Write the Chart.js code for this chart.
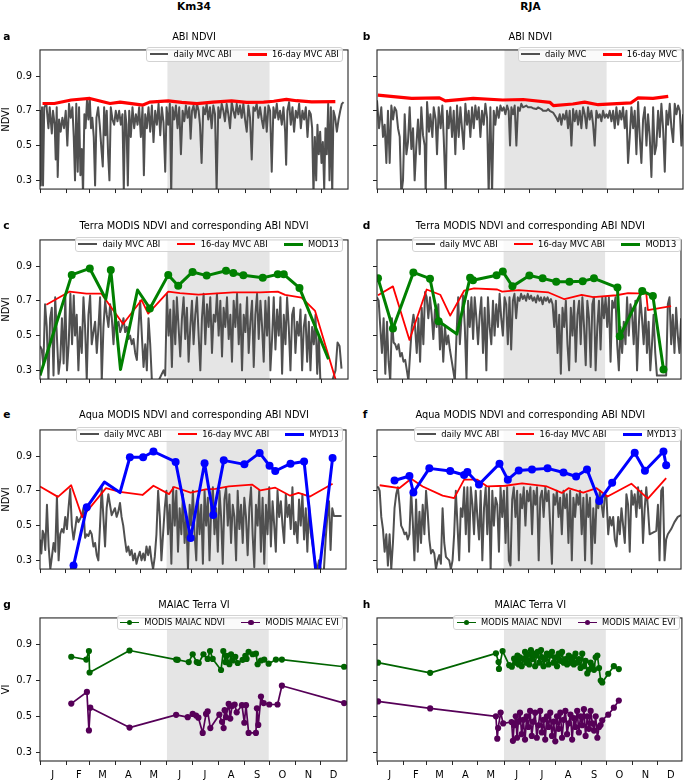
<!DOCTYPE html>
<html><head><meta charset="utf-8">
<script src="https://cdn.jsdelivr.net/npm/chart.js@4.4.1/dist/chart.umd.min.js"></script>
<style>
html,body{margin:0;padding:0}
body{width:685px;height:781px;position:relative;background:#fff;overflow:hidden;font-family:"DejaVu Sans",sans-serif;color:#000}
.hdr{position:absolute;width:200px;text-align:center;font:bold 10.6px "DejaVu Sans";line-height:12px}
.let{position:absolute;font:bold 10.6px "DejaVu Sans";line-height:12px}
.ttl{position:absolute;width:320px;text-align:center;font:9.8px "DejaVu Sans";line-height:12px;white-space:nowrap}
.leg{position:absolute;display:flex;align-items:center;box-sizing:border-box;height:15.6px;background:rgba(255,255,255,0.8);border:1px solid #d3d3d3;border-radius:3px;padding:0 3.5px 0 2.5px;font:8.36px "DejaVu Sans";line-height:10px;white-space:nowrap;z-index:2}
.it{display:flex;align-items:center;margin-left:16.4px}
.it:first-child{margin-left:0}
.hd{position:relative;width:18.7px;height:8px;margin-right:5.3px}
.ln{position:absolute;left:0;right:0;top:50%}
.mk{position:absolute;left:50%;top:50%;border-radius:50%}
canvas{position:absolute}
</style>
</head><body>
<script>
// ---------- axes ----------
const monthStarts=[0,31,59,90,120,151,181,212,243,273,304,334];
const monthLabels=['J','F','M','A','M','J','J','A','S','O','N','D'];
const yTicks=[0.3,0.5,0.7,0.9];
const drySeason=[151,272];

// ---------- a: Km34 ABI NDVI ----------
const km34AbiDaily=[[0,.70],[1,.27],[2.4,.72],[3.6,.27],[5,.72],[7.5,.74],[10,.60],[11.5,.72],[14,.57],[15.4,.70],[17.4,.62],[18.6,.42],[19.8,.72],[21,.32],[22.6,.65],[24.5,.58],[26.5,.66],[28.5,.60],[30.5,.70],[32.4,.50],[34.4,.74],[36.4,.66],[38.4,.72],[40,.55],[41.5,.30],[43,.74],[44.7,.35],[46.3,.72],[47.9,.33],[49.5,.48],[51,.22],[52.6,.68],[54,.60],[55.8,.77],[57.4,.65],[59,.77],[60.5,.60],[62,.66],[63.7,.55],[65.3,.27],[66.9,.66],[68.9,.72],[70.8,.62],[72.8,.48],[74.4,.38],[76,.72],[77.6,.56],[79.1,.70],[80.7,.45],[82.3,.30],[83.9,.72],[85.9,.65],[87.9,.62],[89.8,.70],[91.8,.64],[93.8,.70],[95.8,.62],[97.7,.68],[99.3,.24],[100.9,.70],[102.5,.62],[104.1,.27],[105.7,.70],[107.6,.55],[109.6,.72],[111.6,.60],[113.6,.68],[115.6,.62],[117.5,.72],[119.5,.55],[121.5,.72],[123.1,.33],[124.7,.68],[126.6,.60],[128.6,.72],[130.6,.58],[132.6,.73],[134.5,.52],[136.5,.70],[138.5,.62],[140.5,.74],[142.5,.56],[144.4,.72],[146.4,.63],[148.4,.35],[150,.72],[152,.62],[153.9,.74],[155.5,.22],[157.1,.72],[159.1,.65],[161.1,.73],[163,.60],[165,.72],[167,.45],[169,.70],[171,.64],[172.9,.73],[174.9,.66],[176.9,.72],[178.5,.54],[180.1,.70],[182,.73],[184,.66],[186,.74],[188,.70],[189.6,.62],[191.5,.40],[193.5,.72],[195.5,.68],[197.5,.74],[199.4,.65],[201.4,.72],[203.4,.60],[205.4,.73],[207.4,.68],[209.3,.24],[211.3,.72],[213.3,.66],[215.3,.74],[217.3,.70],[219.2,.64],[221.2,.74],[223.2,.68],[225.2,.60],[227.2,.75],[229.1,.70],[231.1,.66],[233.1,.74],[235.1,.68],[237,.73],[239,.66],[241,.74],[243,.65],[245,.58],[246.9,.73],[248.9,.66],[250.9,.42],[252.9,.72],[254.8,.70],[256.8,.74],[258.8,.66],[260.8,.72],[262.8,.65],[264.7,.60],[266.7,.72],[268.7,.58],[270.7,.73],[272.7,.70],[274.6,.35],[276.6,.72],[278.6,.66],[280.6,.74],[282.5,.65],[284.5,.70],[286.5,.62],[288.5,.72],[290.5,.58],[291.7,.39],[293.2,.70],[295.2,.75],[297.2,.62],[299.2,.72],[301.1,.58],[303.1,.70],[305.1,.66],[307.1,.74],[309.1,.60],[311,.70],[313,.65],[315,.72],[317,.55],[319,.70],[320.9,.68],[322.5,.60],[324.1,.22],[325.7,.55],[327.3,.30],[328.8,.62],[330.4,.45],[332,.58],[333.6,.40],[335.2,.52],[336.8,.25],[338.3,.60],[339.9,.45],[341.5,.74],[343.1,.30],[344.7,.72],[346.3,.22],[347.8,.70],[349.8,.66],[351.8,.58],[353.8,.65],[355.8,.70],[357.7,.74],[359.7,.75]];
const km34AbiMvc16=[[3,.742],[17,.742],[37,.762],[59,.771],[83,.742],[95,.75],[122,.733],[130,.75],[152,.757],[168,.748],[186,.741],[205,.75],[227,.757],[245,.748],[265,.75],[277,.755],[292,.766],[304,.758],[322,.751],[350,.753]];

// ---------- b: RJA ABI NDVI ----------
const rjaAbiDaily=[[0,.76],[2.4,.60],[5.1,.72],[7.1,.55],[9.1,.62],[11.1,.40],[13,.70],[15,.40],[17,.73],[19,.65],[20.9,.72],[22.9,.70],[24.9,.60],[26.9,.55],[28.8,.22],[30.8,.30],[32.8,.68],[34.8,.45],[36.7,.52],[38.7,.72],[40.7,.48],[42.7,.60],[44.6,.30],[46.6,.50],[48.6,.65],[50.6,.45],[52.5,.72],[54.5,.56],[56.5,.50],[57.7,.22],[59.3,.75],[61.6,.58],[63.2,.68],[65.6,.55],[67.2,.72],[69.5,.65],[71.1,.45],[73.1,.72],[75.4,.60],[77.4,.73],[79,.55],[81.4,.22],[83,.70],[84.9,.60],[86.9,.72],[88.9,.55],[90.9,.70],[92.8,.45],[94.8,.73],[96.8,.55],[98.8,.72],[100.7,.60],[102.7,.48],[104.7,.74],[106.7,.62],[108.6,.70],[110.6,.55],[112.6,.72],[114.6,.60],[116.5,.73],[118.5,.65],[120.5,.72],[122.5,.55],[124.4,.70],[126.4,.62],[128.4,.74],[130.4,.66],[132.3,.22],[134.3,.72],[136.3,.22],[138.3,.70],[140.2,.62],[142.2,.72],[144.2,.66],[146.2,.73],[148.1,.70],[150.1,.72],[152.1,.68],[154.1,.73],[156,.70],[157.6,.50],[159.2,.72],[161.2,.68],[163.1,.73],[165.1,.50],[167.1,.72],[169.1,.70],[171,.74],[173,.72],[177,.73],[179,.72],[182.9,.72],[184.8,.715],[188.8,.71],[190.8,.72],[194.7,.71],[196.7,.70],[200.7,.70],[202.6,.71],[204.6,.70],[208.6,.69],[212.5,.66],[214.5,.64],[216.5,.68],[218.4,.62],[220.4,.68],[222.4,.65],[224.4,.70],[226.3,.60],[228.3,.70],[230.3,.50],[232.3,.71],[234.2,.64],[236.2,.70],[238.2,.62],[240.2,.70],[242.1,.60],[244.1,.72],[246.1,.68],[248.1,.60],[250,.72],[252,.65],[254,.70],[256,.62],[257.9,.50],[259.9,.70],[261.9,.66],[263.9,.68],[265.8,.64],[267.8,.70],[269.8,.66],[271.8,.68],[273.7,.66],[275.7,.70],[277.7,.64],[279.7,.70],[281.6,.60],[283.6,.72],[285.6,.62],[287.6,.70],[289.5,.65],[291.5,.72],[293.5,.60],[295.5,.70],[297.4,.40],[299.4,.55],[301.4,.72],[303.4,.60],[305.3,.70],[307.3,.45],[309.3,.75],[311.3,.55],[313.2,.40],[315.2,.65],[317.2,.72],[319.2,.50],[321.1,.68],[323.1,.55],[325.1,.32],[327.1,.72],[329,.45],[331,.50],[333,.70],[335,.55],[336.9,.74],[338.9,.60],[340.9,.35],[342.9,.70],[344.8,.62],[346.8,.74],[348.8,.60],[350.8,.52],[352.7,.74],[354.7,.68],[356.7,.73],[358.7,.70],[360.6,.50],[362.6,.68]];
const rjaAbiMvc16=[[1,.79],[41,.771],[74,.774],[81,.757],[114,.771],[149,.762],[173,.765],[205,.748],[209,.73],[232,.739],[246,.75],[262,.735],[301,.746],[309,.774],[327,.771],[345,.783]];

// ---------- c: Km34 Terra MODIS ----------
const km34TerraAbiDaily=[[0,.44],[2,.42],[4,.33],[6,.68],[8,.55],[10,.24],[12,.60],[14,.66],[16,.27],[18,.72],[20,.50],[22,.28],[24,.36],[26,.60],[28,.34],[30,.72],[32,.30],[34,.45],[36,.74],[38,.45],[40,.73],[41.5,.50],[43.5,.62],[45.5,.30],[47.5,.55],[49.5,.40],[51.5,.72],[53.4,.55],[55.4,.25],[57.4,.62],[59.4,.73],[61.3,.45],[63.3,.52],[65.3,.58],[67.3,.40],[69.3,.55],[71.2,.72],[73.2,.24],[75.2,.55],[77.2,.70],[79.1,.62],[81.1,.55],[83.1,.68],[85.1,.60],[87.1,.45],[89,.62],[91,.55],[93,.58],[95,.52],[97,.55],[98.9,.60],[100.9,.52],[102.9,.55],[104.9,.48],[106.8,.50],[108.8,.45],[110.8,.48],[112.8,.40],[114.8,.36],[116.7,.55],[118.7,.70],[120.7,.50],[122.7,.32],[124.7,.45],[126.6,.30],[128.6,.60],[130.6,.45],[132.6,.24],[136.5,.24],[140.5,.24],[144.4,.28],[146.4,.30],[148.4,.27],[150.4,.74],[152.4,.50],[154.3,.65],[156.3,.32],[158.3,.70],[160.3,.45],[162.2,.72],[164.2,.55],[166.2,.38],[168.2,.60],[170.2,.72],[172.1,.48],[174.1,.66],[176.1,.35],[178.1,.55],[180.1,.70],[182,.45],[184,.62],[186,.72],[188,.50],[190,.30],[191.9,.60],[193.9,.74],[195.9,.45],[197.9,.68],[199.8,.55],[201.8,.72],[203.8,.40],[205.8,.62],[207.8,.58],[209.7,.74],[211.7,.50],[213.7,.70],[215.7,.38],[217.6,.66],[219.6,.55],[221.6,.72],[223.6,.48],[225.6,.62],[227.5,.35],[229.5,.70],[231.5,.55],[233.5,.74],[235.5,.45],[237.4,.68],[239.4,.30],[241.4,.62],[243.4,.52],[245.4,.72],[247.3,.40],[249.3,.58],[251.3,.70],[253.3,.32],[255.2,.62],[257.2,.74],[259.2,.48],[261.2,.70],[263.2,.55],[265.1,.35],[267.1,.70],[269.1,.50],[271.1,.72],[273,.30],[275,.48],[277,.72],[279,.42],[281,.65],[282.9,.50],[284.9,.72],[286.9,.28],[288.9,.62],[290.9,.45],[292.8,.72],[294.8,.55],[296.8,.30],[298.8,.62],[300.7,.66],[302.7,.40],[304.7,.58],[306.7,.50],[308.7,.65],[310.6,.30],[312.6,.55],[314.6,.62],[316.6,.35],[318.6,.58],[320.5,.30],[322.5,.55],[324.5,.45],[326.5,.62],[328.5,.28],[330.4,.50],[332.4,.22],[340.3,.22],[346.3,.24],[350.2,.30],[352.6,.46],[355,.44],[357.3,.31]];
const km34TerraAbiMvc16=[[7.5,.677],[35.2,.753],[55,.741],[72.8,.741],[98.5,.567],[120.3,.705],[128.2,.626],[152,.753],[165.8,.744],[187.6,.735],[205.4,.741],[229,.748],[260.8,.748],[281.8,.753],[290.5,.734],[310,.718],[326,.642],[352,.22]];
const km34Mod13=[[0,.27],[37.6,.849],[59,.886],[78,.71],[83.9,.877],[95.4,.305],[115.6,.762],[130.2,.656],[152,.849],[163.8,.787],[180.8,.866],[197.5,.845],[220.4,.873],[229.1,.86],[241,.847],[264,.833],[281.8,.852],[288.9,.852],[307.5,.774],[341.9,.364]];
const km34Mod13Marked=[0,1,1,0,1,0,0,1,1,1,1,1,1,1,1,1,1,1,1,0];

// ---------- d: RJA Terra MODIS ----------
const rjaTerraAbiDaily=[[0,.72],[2,.70],[3.9,.55],[5.9,.40],[7.9,.60],[9.9,.28],[11.9,.58],[13.8,.35],[15.8,.24],[17.8,.60],[19.8,.46],[21.7,.45],[23.7,.42],[25.7,.45],[27.7,.38],[29.6,.40],[31.6,.35],[33.6,.36],[35.6,.30],[37.5,.24],[39.5,.40],[41.5,.55],[43.5,.62],[45.4,.55],[47.4,.40],[49.4,.60],[51.4,.35],[53.3,.66],[55.3,.45],[57.3,.75],[59.3,.72],[61.2,.60],[63.2,.72],[65.2,.62],[67.2,.48],[69.1,.65],[71.1,.55],[73.1,.68],[75.1,.42],[77,.58],[79,.35],[81,.55],[83,.45],[84.9,.50],[86.9,.42],[88.9,.36],[90.9,.30],[92.8,.24],[94.8,.50],[96.8,.72],[98.8,.45],[100.7,.60],[102.7,.73],[104.7,.55],[106.7,.25],[108.6,.70],[110.6,.55],[112.6,.72],[114.6,.48],[116.5,.72],[118.5,.60],[120.5,.45],[122.5,.62],[124.4,.72],[126.4,.40],[128.4,.66],[130.4,.30],[132.3,.72],[134.3,.55],[136.3,.45],[138.3,.70],[140.2,.50],[142.2,.68],[144.2,.55],[146.2,.74],[148.1,.60],[150.1,.50],[152.1,.72],[154.1,.68],[156,.45],[158,.72],[160,.42],[162,.70],[163.9,.74],[165.9,.60],[167.9,.72],[169.9,.70],[171.8,.74],[173.8,.71],[175.8,.73],[177.8,.70],[179.7,.74],[181.7,.71],[183.7,.73],[185.7,.70],[187.6,.72],[189.6,.69],[191.6,.73],[193.6,.70],[195.5,.72],[197.5,.68],[199.5,.72],[201.5,.70],[203.4,.72],[205.4,.69],[207.4,.71],[209.4,.68],[211.3,.55],[213.3,.70],[215.3,.40],[217.3,.62],[219.2,.28],[221.2,.66],[223.2,.55],[225.2,.70],[227.1,.45],[229.1,.30],[231.1,.66],[233.1,.50],[235,.70],[237,.35],[239,.62],[241,.70],[242.9,.45],[244.9,.72],[246.9,.55],[248.9,.33],[250.8,.70],[252.8,.60],[254.8,.32],[256.8,.68],[258.7,.72],[260.7,.30],[262.7,.55],[264.7,.70],[266.6,.42],[268.6,.72],[270.6,.60],[272.6,.72],[274.5,.55],[276.5,.72],[278.5,.35],[280.5,.70],[282.4,.66],[284.4,.72],[286.4,.45],[288.4,.30],[290.3,.55],[292.3,.40],[294.3,.58],[296.3,.45],[298.2,.72],[300.2,.50],[302.2,.68],[304.2,.62],[306.1,.45],[308.1,.70],[310.1,.30],[312.1,.55],[314,.72],[316,.60],[318,.45],[320,.66],[321.9,.40],[323.9,.58],[325.9,.30],[327.9,.45],[329.8,.62],[331.8,.40],[333.8,.27],[335.8,.27],[339.7,.27],[344.8,.27],[346.8,.68],[348.8,.72],[350.8,.45],[352.7,.62],[354.7,.40],[356.7,.66],[358.7,.50],[360.6,.40],[362.6,.60]];
const rjaTerraAbiMvc16=[[1.2,.732],[19,.783],[38.7,.475],[59.2,.765],[75.4,.735],[87.3,.615],[103.9,.758],[115.7,.771],[143.4,.765],[149.3,.753],[169,.762],[204.6,.748],[223.5,.709],[244,.734],[257.9,.721],[285.5,.732],[299.4,.744],[321.1,.741],[323,.647],[350.7,.67]];
const rjaMod13=[[1.2,.829],[19,.541],[43.4,.863],[63.2,.827],[73.5,.582],[95.2,.509],[111,.833],[114.5,.818],[142.6,.847],[150,.868],[161.5,.783],[181.7,.845],[197.5,.829],[213.7,.81],[229.5,.81],[245.3,.813],[258.7,.829],[286.7,.776],[289.5,.496],[316.3,.757],[329,.727],[341.6,.305]];
const rjaMod13Marked=[1,1,1,1,1,0,1,1,1,1,1,1,1,1,1,1,1,1,1,1,1,1];

// ---------- e: Km34 Aqua MODIS ----------
const km34AquaAbiDaily=[[0,.42],[1.6,.34],[3.2,.47],[4.7,.45],[6.3,.36],[8.3,.62],[10.3,.38],[12.3,.25],[14.2,.32],[16.2,.40],[18.2,.35],[20.2,.67],[22.2,.30],[24.1,.45],[26.1,.48],[28.1,.46],[30.1,.55],[32.1,.48],[34,.60],[36,.71],[38,.50],[40,.42],[41.9,.48],[43.9,.55],[45.9,.52],[47.9,.54],[49.9,.56],[51.8,.60],[53.8,.43],[55.8,.45],[57.8,.44],[59.8,.47],[61.7,.45],[63.7,.38],[65.7,.40],[67.7,.33],[69.6,.30],[71.6,.50],[73.6,.72],[75.6,.55],[77.6,.38],[79.5,.60],[81.5,.68],[83.5,.62],[85.5,.56],[87.4,.58],[89.4,.60],[91.4,.55],[93.4,.58],[95.4,.63],[97.3,.55],[99.3,.50],[101.3,.42],[103.3,.35],[105.3,.38],[107.2,.33],[109.2,.36],[111.2,.30],[113.2,.34],[115.1,.28],[117.1,.32],[119.1,.35],[121.1,.30],[123.1,.34],[125,.30],[127,.38],[129,.33],[131,.38],[133,.30],[134.9,.25],[136.9,.32],[138.9,.45],[140.9,.70],[142.9,.55],[144.8,.30],[146.8,.45],[148.8,.60],[150.8,.70],[152.7,.45],[154.7,.62],[156.7,.28],[158.7,.72],[160.7,.50],[162.6,.70],[164.6,.35],[166.6,.60],[168.6,.45],[170.5,.68],[172.5,.40],[174.5,.55],[176.5,.25],[178.5,.62],[180.4,.50],[182.4,.70],[184.4,.45],[186.4,.30],[188.4,.66],[190.3,.45],[192.3,.62],[194.3,.28],[196.3,.70],[198.2,.50],[200.2,.66],[202.2,.30],[204.2,.60],[206.2,.72],[208.1,.45],[210.1,.60],[212.1,.35],[214.1,.70],[216,.55],[218,.28],[220,.65],[222,.72],[224,.50],[225.9,.68],[227.9,.40],[229.9,.62],[231.9,.55],[233.9,.30],[235.8,.70],[237.8,.48],[239.8,.62],[241.8,.40],[243.7,.66],[245.7,.55],[247.7,.33],[249.7,.60],[251.7,.72],[253.6,.45],[255.6,.26],[257.6,.62],[259.6,.50],[261.5,.70],[263.5,.35],[265.5,.66],[267.5,.28],[269.5,.62],[271.4,.45],[273.4,.72],[275.4,.38],[277.4,.64],[279.4,.50],[281.3,.35],[283.3,.70],[285.3,.55],[287.3,.64],[289.3,.50],[291.2,.40],[293.2,.68],[295.2,.55],[297.2,.62],[299.1,.48],[301.1,.72],[303.1,.45],[305.1,.52],[307.1,.40],[309,.65],[311,.50],[313,.68],[315,.42],[317,.60],[318.9,.35],[320.9,.62],[322.9,.46],[324.9,.40],[326.9,.33],[328.8,.28],[330.8,.25],[332.8,.30],[334.8,.25],[336.7,.20],[338.7,.25],[340.7,.42],[342.7,.55],[344.7,.64],[346.6,.36],[348.6,.60],[350.6,.555],[359.7,.555]];
const km34AquaAbiMvc16=[[0,.725],[21.4,.665],[37.2,.732],[50.3,.549],[78.7,.715],[95.4,.694],[122.3,.676],[135.3,.729],[153.9,.681],[159.9,.722],[179.7,.69],[197.5,.708],[209.3,.711],[225.2,.725],[252.9,.736],[262.8,.702],[280.6,.718],[298.4,.672],[308.3,.688],[322.1,.667],[349,.741]];
const km34Myd13=[[31,.20],[40,.27],[55.8,.605],[76.8,.75],[95.4,.69],[107.2,.893],[123,.893],[135.3,.926],[161.8,.866],[179.7,.429],[196.3,.858],[206.6,.561],[219.2,.875],[243.8,.852],[262,.918],[273.8,.844],[280.6,.814],[298.8,.856],[315,.868],[331,.15],[349,.888]];
const km34Myd13Marked=[0,1,1,0,0,1,1,1,1,1,1,1,1,1,1,1,1,1,1,0,1];

// ---------- f: RJA Aqua MODIS ----------
const rjaAquaAbiDaily=[[0,.72],[1.6,.72],[3.2,.70],[5.1,.55],[7.1,.48],[9.1,.35],[11.1,.45],[13,.27],[15,.45],[17,.25],[19,.40],[20.9,.60],[22.9,.68],[24.9,.72],[26.9,.62],[28.8,.50],[30.8,.48],[32.8,.45],[34.8,.46],[36.7,.42],[38.7,.45],[40.7,.70],[42.7,.52],[44.6,.30],[46.6,.65],[48.6,.35],[50.6,.58],[52.5,.40],[54.5,.62],[56.5,.45],[58.5,.70],[60.4,.58],[62.4,.42],[64.4,.34],[66.4,.36],[68.3,.34],[70.3,.25],[72.3,.30],[74.3,.33],[76.2,.28],[78.2,.60],[80.2,.40],[82.2,.32],[84.1,.31],[86.1,.30],[88.1,.25],[90.1,.30],[92,.45],[94,.70],[96,.50],[98,.30],[99.9,.60],[101.9,.55],[103.9,.72],[105.9,.45],[107.8,.72],[109.8,.35],[111.8,.72],[113.8,.62],[115.7,.45],[117.7,.70],[119.7,.55],[121.7,.42],[123.6,.70],[125.6,.30],[127.6,.60],[129.6,.72],[131.5,.45],[133.5,.72],[135.5,.24],[137.5,.70],[139.4,.50],[141.4,.66],[143.4,.62],[145.4,.35],[147.3,.72],[149.3,.55],[151.3,.70],[153.3,.40],[155.2,.72],[157.2,.30],[159.2,.27],[161.2,.65],[163.1,.72],[165.1,.55],[167.1,.70],[169.1,.30],[171,.68],[173,.60],[175,.72],[177,.50],[178.9,.70],[180.9,.64],[182.9,.72],[184.9,.45],[186.8,.70],[188.8,.62],[190.8,.72],[192.8,.30],[194.7,.66],[196.7,.70],[198.7,.55],[200.7,.72],[202.6,.64],[204.6,.70],[206.6,.48],[208.6,.28],[210.5,.68],[212.5,.62],[214.5,.70],[216.5,.55],[218.4,.66],[220.4,.45],[222.4,.70],[224.4,.60],[226.3,.68],[228.3,.40],[230.3,.70],[232.3,.30],[234.2,.66],[236.2,.55],[238.2,.68],[240.2,.62],[242.1,.70],[244.1,.45],[246.1,.66],[248.1,.30],[250,.68],[252,.55],[254,.66],[256,.28],[257.9,.60],[259.9,.40],[261.9,.66],[263.9,.60],[265.8,.70],[267.8,.62],[269.8,.55],[271.8,.68],[273.7,.66],[275.7,.45],[277.7,.55],[279.7,.50],[281.6,.55],[283.6,.42],[285.6,.38],[287.6,.55],[289.5,.45],[291.5,.60],[293.5,.50],[295.5,.40],[297.4,.68],[299.4,.62],[301.4,.35],[303.4,.70],[305.3,.62],[307.3,.68],[309.3,.55],[311.3,.72],[313.2,.60],[315.2,.70],[317.2,.40],[319.2,.60],[321.1,.72],[323.1,.60],[325.1,.45],[329,.46],[333,.47],[335,.62],[336.9,.30],[338.9,.70],[340.9,.72],[342.9,.30],[344.8,.42],[346.8,.45],[350.8,.48],[354.7,.52],[358.7,.55],[362.6,.56]];
const rjaAquaAbiMvc16=[[3.2,.732],[26.9,.716],[40.7,.769],[54.5,.725],[78.2,.672],[92,.658],[103.9,.764],[119.7,.764],[131.5,.725],[153.2,.729],[173,.743],[202.6,.725],[220.4,.688],[228.3,.715],[246,.69],[261.8,.715],[274.9,.667],[303.3,.741],[323,.655],[344.8,.773]];
const rjaMyd13=[[20.9,.759],[38.7,.785],[43.4,.69],[62.4,.829],[87.3,.814],[103.9,.791],[107.8,.808],[121.6,.736],[146.1,.856],[156,.764],[169,.817],[184.8,.822],[203.4,.829],[222.4,.805],[237.4,.782],[250.4,.822],[265,.641],[280.4,.746],[307.3,.919],[319.5,.815],[341.6,.926],[344.8,.847]];

// ---------- g: Km34 MAIAC ----------
const km34MaiacNdvi=[[37.2,.833],[55,.817],[58.2,.865],[59,.745],[106.5,.868],[161.9,.817],[163.8,.816],[176.9,.803],[181.6,.847],[186.4,.803],[188.8,.798],[194.4,.847],[199.4,.821],[202.2,.865],[205.4,.821],[215.3,.759],[218,.865],[220.4,.803],[222,.838],[225.2,.791],[227.2,.847],[229.1,.812],[232.3,.833],[235.1,.798],[241,.816],[244.2,.838],[245.7,.821],[248.1,.861],[252.9,.847],[256.8,.85],[258.8,.791],[262.8,.812],[266.7,.817],[271.9,.794],[280.6,.817],[287.7,.817],[361.7,.777]];
const km34MaiacEvi=[[37.2,.571],[55.8,.636],[58.2,.421],[59.8,.548],[106.5,.437],[161.9,.508],[175.7,.495],[181.6,.513],[185.6,.504],[188.4,.492],[193.5,.407],[197.5,.513],[199.4,.527],[202.6,.434],[213.3,.509],[216.5,.469],[218.4,.434],[219.6,.534],[221.2,.495],[224.4,.569],[226.3,.487],[228.3,.557],[231.5,.566],[233.9,.522],[240.2,.562],[243,.464],[245,.562],[248.1,.407],[256.8,.407],[258,.545],[259.6,.452],[262.8,.61],[266,.574],[272.7,.566],[282.5,.566],[287.7,.671],[361.7,.574]];

// ---------- h: RJA MAIAC ----------
const rjaMaiacNdvi=[[1.2,.80],[63.2,.743],[141.4,.852],[144.5,.803],[145,.765],[149.3,.865],[157.2,.786],[160.3,.777],[163,.822],[165,.80],[167,.84],[168.5,.79],[170,.83],[172,.78],[174,.82],[176,.86],[177.5,.80],[179,.845],[181,.79],[183,.87],[184.5,.82],[186,.85],[188,.78],[189.5,.84],[191,.86],[193,.80],[195,.87],[196.5,.83],[198,.78],[200,.82],[202,.85],[204,.79],[206,.84],[208,.86],[210,.80],[212,.83],[214,.78],[216,.85],[218,.81],[220,.86],[222,.80],[224,.82],[226,.79],[228,.84],[230,.80],[232,.83],[234,.79],[236,.85],[238,.80],[240,.82],[242,.77],[244,.85],[246,.78],[248,.81],[250,.74],[252,.76],[254,.80],[256,.78],[258,.76],[260,.83],[262,.84],[264,.77],[266,.70],[267.8,.689],[274.9,.738],[281.6,.78],[287.5,.764]];
const rjaMaiacEvi=[[1.2,.583],[63.2,.544],[141.4,.50],[143,.375],[144,.434],[147,.521],[150,.46],[160,.468],[161.6,.363],[163,.45],[165,.50],[166.5,.38],[168,.47],[170,.52],[172,.40],[174,.48],[176,.37],[178,.50],[180,.44],[182,.53],[184,.39],[186,.47],[188,.52],[190,.38],[192,.45],[194,.53],[196,.41],[198,.48],[200,.37],[202,.50],[204,.44],[206,.52],[208,.39],[210,.47],[212,.36],[214,.50],[216,.43],[218,.52],[220,.38],[222,.48],[224,.53],[226,.40],[228,.46],[230,.51],[232,.37],[234,.49],[236,.44],[238,.53],[240,.41],[242,.50],[244,.45],[246,.54],[248,.39],[250,.50],[252,.43],[254,.53],[256,.46],[258,.42],[260,.50],[262,.38],[264,.44],[265.8,.451],[267.8,.478],[274.9,.509],[281.6,.548],[287.5,.588]];

// ---------- styles ----------
const C={gray:'#505050',red:'#ff0000',green:'#008000',blue:'#0000ff',dkgreen:'#006400',purple:'#560058'};
const xy=a=>a.map(p=>({x:p[0],y:p[1]}));

function lineDs(label,data,color,width,order,extra){
  return Object.assign({label,data:xy(data),borderColor:color,backgroundColor:color,borderWidth:width,
    pointRadius:0,pointHoverRadius:0,tension:0,borderJoinStyle:'round',borderCapStyle:'butt',clip:0,order,fill:false},extra||{});
}
function markedDs(label,data,color,flags){
  return lineDs(label,data,color,3,1,{pointRadius:c=>(!flags||flags[c.dataIndex])?4:0,pointBorderWidth:0,pointBackgroundColor:color});
}
function maiacDs(label,data,color){
  return lineDs(label,data,color,1.7,1,{pointRadius:3.1,pointBorderWidth:0,pointBackgroundColor:color});
}

const framePlugin={id:'frame',
  beforeDatasetsDraw(ch){const {ctx,chartArea:a,scales}=ch;const x=scales.x;
    const x0=x.getPixelForValue(drySeason[0]),x1=x.getPixelForValue(drySeason[1]);
    ctx.save();ctx.fillStyle='#e5e5e5';ctx.fillRect(x0,a.top,x1-x0,a.bottom-a.top);ctx.restore();},
  afterDraw(ch){const {ctx,chartArea:a}=ch;ctx.save();ctx.strokeStyle='#262626';ctx.lineWidth=1.1;
    ctx.strokeRect(a.left,a.top,a.right-a.left,a.bottom-a.top);ctx.restore();}
};

function makeChart(p){
  const cv=document.createElement('canvas');
  cv.width=p.cw;cv.height=p.ch;
  cv.style.left=p.cx+'px';cv.style.top=p.cy+'px';cv.style.width=p.cw+'px';cv.style.height=p.ch+'px';
  document.body.appendChild(cv);
  const tickFont={family:'DejaVu Sans',size:9.9};
  new Chart(cv,{type:'line',data:{datasets:p.datasets},
    options:{responsive:false,animation:false,devicePixelRatio:1,
      layout:{padding:{top:3,right:2,left:0,bottom:0}},
      plugins:{legend:{display:false},tooltip:{enabled:false},title:{display:false}},
      scales:{
        x:{type:'linear',min:0,max:p.xMax,
          afterBuildTicks:a=>{a.ticks=monthStarts.map(v=>({value:v}));},
          afterFit:a=>{a.height=p.bottom?20:6;},
          grid:{drawOnChartArea:false,drawTicks:true,tickLength:4,color:'#262626',lineWidth:1},
          border:{display:false},
          ticks:{autoSkip:false,maxRotation:0,minRotation:0,labelOffset:12.8,padding:4,color:'#000',font:tickFont,
            callback:(v,i)=>p.bottom?monthLabels[i]:''}},
        y:{min:0.25,max:1.05,
          afterBuildTicks:a=>{a.ticks=yTicks.map(v=>({value:v}));},
          afterFit:a=>{a.width=p.yw;},
          grid:{drawOnChartArea:false,drawTicks:true,tickLength:4,color:'#262626',lineWidth:1},
          border:{display:false},
          ticks:{padding:4,color:'#000',font:tickFont,callback:v=>p.yTitle?Number(v).toFixed(1):''},
          title:{display:!!p.yTitle,text:p.yTitle||'',color:'#000',font:tickFont,padding:{top:0,bottom:0}}}
      }},
    plugins:[framePlugin]});
}

function addText(cls,text,left,top){
  const d=document.createElement('div');d.className=cls;d.textContent=text;
  d.style.left=left+'px';d.style.top=top+'px';document.body.appendChild(d);
}
function addLegend(items,right,top){
  const d=document.createElement('div');d.className='leg';
  d.style.right=right+'px';d.style.top=top+'px';
  items.forEach(it=>{
    const s=document.createElement('span');s.className='it';
    const h=document.createElement('span');h.className='hd';
    const l=document.createElement('span');l.className='ln';
    l.style.height=it.w+'px';l.style.marginTop=(-it.w/2)+'px';l.style.background=it.c;h.appendChild(l);
    if(it.m){const m=document.createElement('span');m.className='mk';
      m.style.width=m.style.height=(it.m*2)+'px';m.style.marginLeft=m.style.marginTop=(-it.m)+'px';
      m.style.background=it.c;h.appendChild(m);}
    s.appendChild(h);
    const t=document.createElement('span');t.textContent=it.t;s.appendChild(t);
    d.appendChild(s);
  });
  document.body.appendChild(d);
}

// ---------- layout ----------
const L={cx:0,cw:350,yw:40,xMax:365};
const R={cx:369,cw:316,yw:8,xMax:362.5};
const rows=[{cy:40,ch:159},{cy:230,ch:159},{cy:420,ch:159},{cy:608,ch:173}];

const panels=[
  Object.assign({},L,rows[0],{yTitle:'NDVI',datasets:[lineDs('daily MVC ABI',km34AbiDaily,C.gray,2,3),lineDs('16-day MVC ABI',km34AbiMvc16,C.red,3.2,2)]}),
  Object.assign({},R,rows[0],{datasets:[lineDs('daily MVC',rjaAbiDaily,C.gray,2,3),lineDs('16-day MVC',rjaAbiMvc16,C.red,3.2,2)]}),
  Object.assign({},L,rows[1],{yTitle:'NDVI',datasets:[lineDs('daily MVC ABI',km34TerraAbiDaily,C.gray,2,3),lineDs('16-day MVC ABI',km34TerraAbiMvc16,C.red,1.8,2),markedDs('MOD13',km34Mod13,C.green,km34Mod13Marked)]}),
  Object.assign({},R,rows[1],{datasets:[lineDs('daily MVC ABI',rjaTerraAbiDaily,C.gray,2,3),lineDs('16-day MVC ABI',rjaTerraAbiMvc16,C.red,1.8,2),markedDs('MOD13',rjaMod13,C.green,rjaMod13Marked)]}),
  Object.assign({},L,rows[2],{yTitle:'NDVI',datasets:[lineDs('daily MVC ABI',km34AquaAbiDaily,C.gray,2,3),lineDs('16-day MVC ABI',km34AquaAbiMvc16,C.red,1.8,2),markedDs('MYD13',km34Myd13,C.blue,km34Myd13Marked)]}),
  Object.assign({},R,rows[2],{datasets:[lineDs('daily MVC ABI',rjaAquaAbiDaily,C.gray,2,3),lineDs('16-day MVC ABI',rjaAquaAbiMvc16,C.red,1.8,2),markedDs('MYD13',rjaMyd13,C.blue,null)]}),
  Object.assign({},L,rows[3],{yTitle:'VI',bottom:true,datasets:[maiacDs('MODIS MAIAC NDVI',km34MaiacNdvi,C.dkgreen),maiacDs('MODIS MAIAC EVI',km34MaiacEvi,C.purple)]}),
  Object.assign({},R,rows[3],{bottom:true,datasets:[maiacDs('MODIS MAIAC NDVI',rjaMaiacNdvi,C.dkgreen),maiacDs('MODIS MAIAC EVI',rjaMaiacEvi,C.purple)]})
];
panels.forEach(makeChart);

// ---------- texts ----------
addText('hdr','Km34',94,-0.4);
addText('hdr','RJA',430.5,-0.4);
[['a',3.3,29.6],['b',362.7,29.6],['c',3.3,218.6],['d',362.7,218.6],['e',3.3,407.6],['f',362.7,407.6],['g',3.3,597.6],['h',362.7,597.6]]
  .forEach(t=>addText('let',t[0],t[1],t[2]));
const tTerra='Terra MODIS NDVI and corresponding ABI NDVI',tAqua='Aqua MODIS NDVI and corresponding ABI NDVI';
[['ABI NDVI',194,30.6],['ABI NDVI',530.3,30.6],[tTerra,194,219.6],[tTerra,530.3,219.6],[tAqua,194,408.9],[tAqua,530.3,408.9],['MAIAC Terra VI',194,598.9],['MAIAC Terra VI',530.3,598.9]]
  .forEach(t=>addText('ttl',t[0],t[1]-160,t[2]));

// ---------- legends ----------
const lgGray=t=>({t,c:C.gray,w:2}), lgRed=(t,w)=>({t,c:C.red,w});
addLegend([lgGray('daily MVC ABI'),lgRed('16-day MVC ABI',3)],341.7,46.7);
addLegend([lgGray('daily MVC'),lgRed('16-day MVC',3)],3.3,46.7);
addLegend([lgGray('daily MVC ABI'),lgRed('16-day MVC ABI',2),{t:'MOD13',c:C.green,w:3.2}],341.7,236.7);
addLegend([lgGray('daily MVC ABI'),lgRed('16-day MVC ABI',2),{t:'MOD13',c:C.green,w:3.2}],4.3,236.7);
addLegend([lgGray('daily MVC ABI'),lgRed('16-day MVC ABI',2),{t:'MYD13',c:C.blue,w:3.2}],341.7,426.7);
addLegend([lgGray('daily MVC ABI'),lgRed('16-day MVC ABI',2),{t:'MYD13',c:C.blue,w:3.2}],4.3,426.7);
addLegend([{t:'MODIS MAIAC NDVI',c:C.dkgreen,w:1.6,m:2.8},{t:'MODIS MAIAC EVI',c:C.purple,w:1.6,m:2.8}],341.7,614.5);
addLegend([{t:'MODIS MAIAC NDVI',c:C.dkgreen,w:1.6,m:2.8},{t:'MODIS MAIAC EVI',c:C.purple,w:1.6,m:2.8}],5,614.5);
</script>
</body></html>
